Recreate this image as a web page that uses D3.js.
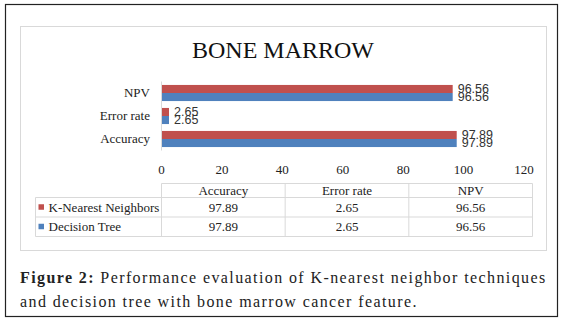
<!DOCTYPE html>
<html>
<head>
<meta charset="utf-8">
<script src="https://cdn.jsdelivr.net/npm/d3@7"></script>
<style>
  body { margin: 0; background: #fff; }
  #wrap { position: relative; width: 563px; height: 325px; }
  svg { position: absolute; left: 0; top: 0; }
  .caption {
    position: absolute; left: 20px; width: 526px;
    font-family: "Liberation Serif", serif; font-size: 16px; line-height: 24px;
    letter-spacing: 1.4px; color: #222; white-space: nowrap;
  }
  .caption.l1 { top: 266px; text-align: justify; text-align-last: justify; }
  .caption.l2 { top: 290px; }
  .caption b { font-weight: bold; }
</style>
</head>
<body>
<div id="wrap">
  <div class="caption l1"><b>Figure 2:</b> Performance evaluation of K-nearest neighbor techniques</div>
  <div class="caption l2">and decision tree with bone marrow cancer feature.</div>
</div>
<script>
// chart data
const categories = ["Accuracy", "Error rate", "NPV"];
const seriesNames = ["K-Nearest Neighbors", "Decision Tree"];
const knnValues = [97.89, 2.65, 96.56];
const dtValues = [97.89, 2.65, 96.56];
const xTicks = [0, 20, 40, 60, 80, 100, 120];

const colors = {"K-Nearest Neighbors": "#C0504D", "Decision Tree": "#4F81BD"};
const serif = "'Liberation Serif', serif";
const lineCol = "#D9D9D9";

const series = [
    {name: seriesNames[0], values: knnValues},
    {name: seriesNames[1], values: dtValues}
];

const svg = d3.select("#wrap")
    .append("svg")
    .attr("width", 563)
    .attr("height", 325);

// outer frame and chart frame
svg.append("rect")
    .attr("x", 5.5).attr("y", 4.5)
    .attr("width", 552).attr("height", 312)
    .attr("fill", "none").attr("stroke", "#222").attr("stroke-width", 1.2);
svg.append("rect")
    .attr("x", 20.5).attr("y", 26.5)
    .attr("width", 526).attr("height", 224)
    .attr("fill", "none").attr("stroke", lineCol);

svg.append("text")
    .attr("x", 283).attr("y", 58)
    .attr("text-anchor", "middle")
    .attr("font-family", serif)
    .attr("font-size", 24)
    .attr("fill", "#111")
    .text("BONE MARROW");

// scales
const xScale = d3.scaleLinear().domain([0, 120]).range([161, 523.5]);
const yScale = d3.scaleBand()
    .domain(categories.slice().reverse())
    .range([81.5, 150.5])
    .paddingInner(0.3)
    .paddingOuter(0.15);
const subScale = d3.scaleBand()
    .domain(seriesNames)
    .range([0, yScale.bandwidth()]);

// bars
const groups = svg.selectAll(".cat")
    .data(categories)
    .enter()
    .append("g")
    .attr("class", "cat")
    .attr("transform", d => `translate(0, ${yScale(d)})`);

groups.selectAll("rect")
    .data((c, i) => series.map(s => ({name: s.name, value: s.values[i]})))
    .enter()
    .append("rect")
    .attr("x", xScale(0))
    .attr("y", d => subScale(d.name))
    .attr("width", d => xScale(d.value) - xScale(0))
    .attr("height", subScale.bandwidth())
    .attr("fill", d => colors[d.name]);

groups.selectAll(".lbl")
    .data((c, i) => series.map(s => ({name: s.name, value: s.values[i]})))
    .enter()
    .append("text")
    .attr("class", "lbl")
    .attr("x", d => xScale(d.value) + 5)
    .attr("y", d => subScale(d.name) + subScale.bandwidth() / 2)
    .attr("dy", "0.35em")
    .attr("font-family", "'Liberation Sans', sans-serif")
    .attr("font-size", 12.5)
    .attr("fill", "#333")
    .text(d => d.value.toFixed(2));

// axes
const yAxis = d3.axisLeft(yScale).tickSize(0).tickPadding(11);
const yAxisDisplay = svg.append("g")
    .attr("class", "axis y-axis")
    .attr("transform", `translate(${xScale(0)}, 0)`)
    .call(yAxis);
yAxisDisplay.select(".domain").attr("stroke", lineCol).attr("d", "M0.5,81.5V150.5");
yAxisDisplay.selectAll("text")
    .attr("font-family", serif).attr("font-size", 13).attr("fill", "#222");

const xAxis = d3.axisBottom(xScale).tickValues(xTicks).tickSize(0).tickPadding(10);
const xAxisDisplay = svg.append("g")
    .attr("class", "axis x-axis")
    .attr("transform", "translate(0, 155)")
    .call(xAxis);
xAxisDisplay.select(".domain").remove();
xAxisDisplay.selectAll("text")
    .attr("font-family", serif).attr("font-size", 13).attr("fill", "#222");

// data table
const tblLeft = 35.5, colX = 161.5, tblRight = 532.5;
const rowY = [183.5, 197.5, 217, 236.5];
const colScale = d3.scaleBand().domain(categories).range([colX, tblRight]);

const table = svg.append("g").attr("class", "table")
    .attr("stroke", lineCol).attr("fill", "none");
table.append("line").attr("x1", colX).attr("x2", tblRight).attr("y1", rowY[0]).attr("y2", rowY[0]);
[1, 2, 3].forEach(i => {
    table.append("line").attr("x1", tblLeft).attr("x2", tblRight).attr("y1", rowY[i]).attr("y2", rowY[i]);
});
table.append("line").attr("x1", tblLeft).attr("x2", tblLeft).attr("y1", rowY[1]).attr("y2", rowY[3]);
categories.forEach(c => {
    table.append("line").attr("x1", colScale(c)).attr("x2", colScale(c)).attr("y1", rowY[0]).attr("y2", rowY[3]);
});
table.append("line").attr("x1", tblRight).attr("x2", tblRight).attr("y1", rowY[0]).attr("y2", rowY[3]);

svg.selectAll(".hdr")
    .data(categories)
    .enter()
    .append("text")
    .attr("class", "hdr")
    .attr("x", d => colScale(d) + colScale.bandwidth() / 2)
    .attr("y", (rowY[0] + rowY[1]) / 2)
    .attr("dy", "0.35em")
    .attr("text-anchor", "middle")
    .attr("font-family", serif).attr("font-size", 13).attr("fill", "#222")
    .text(d => d);

series.forEach((s, si) => {
    const yMid = (rowY[si + 1] + rowY[si + 2]) / 2;
    svg.append("rect")
        .attr("x", 38.5).attr("y", yMid - 3)
        .attr("width", 5.5).attr("height", 5.5)
        .attr("fill", colors[s.name]);
    svg.append("text")
        .attr("x", 48.5).attr("y", yMid)
        .attr("dy", "0.35em")
        .attr("font-family", serif).attr("font-size", 13).attr("fill", "#222")
        .text(s.name);
    svg.selectAll(".cell" + si)
        .data(s.values)
        .enter()
        .append("text")
        .attr("x", (d, i) => colScale(categories[i]) + colScale.bandwidth() / 2)
        .attr("y", yMid)
        .attr("dy", "0.35em")
        .attr("text-anchor", "middle")
        .attr("font-family", serif).attr("font-size", 13).attr("fill", "#222")
        .text(d => d);
});
</script>
</body>
</html>
